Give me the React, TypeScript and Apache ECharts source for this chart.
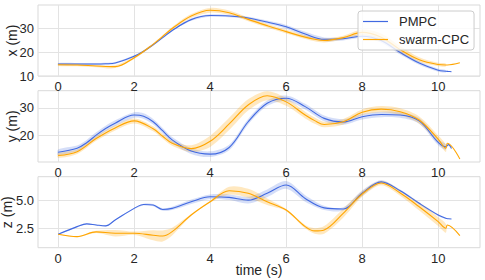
import React, { useEffect, useRef } from "react";
import * as echarts from "echarts";

// Time stamps (s)
const tP = [0, 0.5, 0.75, 1, 1.25, 1.5, 2, 2.25, 2.5, 2.75, 3, 3.5, 4, 4.5, 5, 5.5, 6, 6.5, 7, 7.5, 8, 8.5, 9, 9.5, 10, 10.2, 10.27, 10.35];
const tS = [0, 0.5, 1, 1.5, 2, 2.5, 2.75, 3, 3.5, 4, 4.5, 5, 5.5, 6, 6.5, 6.75, 7, 7.5, 8, 8.5, 9, 9.5, 10, 10.2, 10.24, 10.57];

// PMPC
const pmpcX = [15.0, 15.0, 15.0, 15.0, 15.1, 15.4, 18.2, 20.3, 23.0, 26.0, 29.0, 33.5, 35.2, 35.0, 34.2, 32.5, 30.5, 27.5, 25.3, 25.5, 26.6, 24.8, 19.8, 15.4, 12.4, 12.0, 11.9, 11.8];
const pmpcY = [14.1, 15.5, 17.5, 20.2, 22.6, 24.5, 27.4, 27.0, 25.0, 21.8, 18.5, 14.5, 13.4, 15.8, 25.0, 31.6, 33.4, 30.4, 26.2, 24.9, 26.8, 27.6, 27.4, 25.3, 17.6, 16.0, 16.8, 15.4];
const pmpcZ = [1.96, 2.65, 2.9, 2.8, 2.72, 3.25, 4.3, 4.65, 4.6, 4.2, 4.3, 4.9, 5.36, 5.3, 5.05, 5.67, 6.42, 5.2, 4.35, 4.25, 5.67, 6.7, 5.9, 4.76, 3.7, 3.4, 3.36, 3.34];
const pmpcXBand = [0.4, 0.4, 0.4, 0.4, 0.4, 0.4, 0.4, 0.4, 0.4, 0.4, 0.4, 0.5, 0.5, 0.5, 0.5, 0.6, 0.8, 0.9, 0.8, 0.7, 0.8, 0.9, 0.8, 0.7, 0.6, 0.5, 0, 0];
const pmpcYBand = [1.0, 1.0, 1.0, 1.0, 1.0, 1.0, 1.0, 1.0, 1.0, 1.0, 1.0, 1.0, 1.0, 1.0, 1.0, 1.0, 1.0, 1.0, 1.0, 1.0, 1.0, 1.0, 1.0, 1.0, 1.0, 1.0, 0, 0];
const pmpcZBand = [0.03, 0.05, 0.05, 0.05, 0.05, 0.05, 0.05, 0.08, 0.1, 0.12, 0.15, 0.2, 0.2, 0.25, 0.3, 0.35, 0.35, 0.3, 0.2, 0.15, 0.25, 0.15, 0.1, 0.1, 0.08, 0.05, 0, 0];

// swarm-CPC
const swarmX = [14.7, 14.6, 14.2, 13.9, 17.6, 23.2, 26.5, 29.8, 35.0, 37.4, 36.4, 33.6, 31.0, 28.5, 26.2, 25.3, 24.8, 26.0, 28.2, 26.2, 21.0, 16.8, 14.8, 14.6, 14.6, 15.5];
const swarmY = [12.9, 14.3, 19.0, 22.8, 25.3, 22.5, 19.8, 17.3, 15.4, 18.0, 24.2, 31.0, 34.3, 32.1, 27.4, 25.4, 24.0, 25.0, 28.4, 29.5, 28.6, 25.6, 18.8, 15.5, 17.3, 11.7];
const swarmZ = [1.96, 1.74, 2.17, 2.05, 2.05, 1.87, 1.8, 2.2, 3.7, 4.9, 5.9, 5.67, 4.9, 4.15, 2.65, 2.26, 2.35, 3.85, 5.6, 6.6, 5.7, 4.45, 3.1, 2.5, 2.8, 1.83];
const swarmXBand = [0.5, 0.5, 0.5, 0.6, 0.5, 0.5, 0.5, 0.6, 0.8, 1.0, 0.9, 0.8, 0.8, 0.8, 0.8, 0.8, 0.8, 0.8, 1.2, 1.5, 1.5, 1.0, 0.7, 0.6, 0, 0];
const swarmYBand = [0.8, 0.8, 0.8, 0.9, 0.9, 0.9, 0.9, 0.9, 1.2, 2.0, 2.2, 2.0, 1.6, 1.4, 1.2, 1.1, 1.0, 1.0, 1.0, 1.1, 1.2, 1.3, 1.3, 1.3, 0, 0];
const swarmZBand = [0.03, 0.05, 0.1, 0.3, 0.15, 0.45, 0.5, 0.35, 0.1, 0.1, 0.35, 0.4, 0.3, 0.1, 0.15, 0.25, 0.35, 0.4, 0.25, 0.2, 0.25, 0.35, 0.4, 0.4, 0, 0];

const xTicks = [0, 2, 4, 6, 8, 10];
const yTicks = [[10, 20, 30], [20, 30], [2.5, 5.0]];
const yRanges = [[10, 39.6], [10.6, 36.1], [0.74, 7.17]];
const yNames = ["x (m)", "y (m)", "z (m)"];

const FONT = "Liberation Sans, Arial, sans-serif";
const TXT = "#262626";
const BLUE = "#4169e1";
const ORANGE = "#ffa500";

function band(name: string, idx: number, t: number[], v: number[], hw: number[], fill: string) {
  const data = t.map((x, i) => [x, v[i] - hw[i], v[i] + hw[i]]);
  return {
    type: "custom",
    name,
    xAxisIndex: idx,
    yAxisIndex: idx,
    silent: true,
    clip: true,
    z: 1,
    encode: { x: 0, y: [1, 2] },
    data,
    renderItem: (params: any, api: any) => {
      if (params.dataIndex !== 0) return null;
      const up: number[][] = [];
      const lo: number[][] = [];
      data.forEach((d, i) => {
        if (hw[i] > 0) {
          up.push(api.coord([d[0], d[2]]));
          lo.push(api.coord([d[0], d[1]]));
        }
      });
      return {
        type: "polygon",
        shape: { points: up.concat(lo.reverse()), smooth: 0.3 },
        style: { fill },
      };
    },
  };
}

function line(name: string, idx: number, t: number[], v: number[], color: string) {
  return {
    type: "line",
    name,
    xAxisIndex: idx,
    yAxisIndex: idx,
    data: t.map((x, i) => [x, v[i]]),
    smooth: 0.35,
    showSymbol: false,
    symbol: "none",
    color,
    lineStyle: { width: 1.1, color },
    z: 3,
  };
}

export default function App() {
  const ref = useRef<HTMLDivElement>(null);
  useEffect(() => {
    const chart = echarts.init(ref.current!, null, { renderer: "svg" });
    const tops = [5, 90.7, 176.7];
    const heights = [71, 71.3, 71];
    const nameGaps = [19, 19, 24];
    const grid = tops.map((top, i) => ({
      left: 38,
      top,
      width: 442,
      height: heights[i],
      containLabel: false,
      outerBoundsMode: "none",
      show: true,
      backgroundColor: "#ffffff",
      borderColor: "#d9d9d9",
      borderWidth: 1,
    }));
    const xAxis = [0, 1, 2].map((i) => ({
      type: "value",
      gridIndex: i,
      min: -0.53,
      max: 11.1,
      axisLine: { show: false },
      axisTick: { show: false, customValues: xTicks },
      axisLabel: { customValues: xTicks, margin: 4, fontSize: 13, color: TXT, fontFamily: FONT },
      splitLine: { show: true, lineStyle: { color: "#e3e3e3", width: 1 } },
      name: i === 2 ? "time (s)" : "",
      nameLocation: "middle",
      nameGap: 15,
      nameMoveOverlap: false,
      nameTextStyle: { fontSize: 14, color: TXT, fontFamily: FONT },
    }));
    const yAxis = [0, 1, 2].map((i) => ({
      type: "value",
      gridIndex: i,
      min: yRanges[i][0],
      max: yRanges[i][1],
      axisLine: { show: false },
      axisTick: { show: false, customValues: yTicks[i] },
      axisLabel: {
        customValues: yTicks[i],
        margin: 4,
        fontSize: 13,
        color: TXT,
        fontFamily: FONT,
        formatter: (v: number) => (i === 2 ? v.toFixed(1) : String(v)),
      },
      splitLine: { show: true, lineStyle: { color: "#e3e3e3", width: 1 } },
      name: yNames[i],
      nameLocation: "middle",
      nameGap: nameGaps[i],
      nameMoveOverlap: false,
      nameTextStyle: { fontSize: 14, color: TXT, fontFamily: FONT },
    }));
    const series: any[] = [
      band("bandPX", 0, tP, pmpcX, pmpcXBand, "rgba(65,105,225,0.22)"),
      band("bandSX", 0, tS, swarmX, swarmXBand, "rgba(255,165,0,0.25)"),
      band("bandPY", 1, tP, pmpcY, pmpcYBand, "rgba(65,105,225,0.22)"),
      band("bandSY", 1, tS, swarmY, swarmYBand, "rgba(255,165,0,0.25)"),
      band("bandPZ", 2, tP, pmpcZ, pmpcZBand, "rgba(65,105,225,0.22)"),
      band("bandSZ", 2, tS, swarmZ, swarmZBand, "rgba(255,165,0,0.25)"),
      line("PMPC", 0, tP, pmpcX, BLUE),
      line("swarm-CPC", 0, tS, swarmX, ORANGE),
      line("PMPC", 1, tP, pmpcY, BLUE),
      line("swarm-CPC", 1, tS, swarmY, ORANGE),
      line("PMPC", 2, tP, pmpcZ, BLUE),
      line("swarm-CPC", 2, tS, swarmZ, ORANGE),
    ];
    chart.setOption({
      animation: false,
      backgroundColor: "#ffffff",
      grid,
      xAxis,
      yAxis,
      legend: {
        data: [
          { name: "PMPC", icon: "rect" },
          { name: "swarm-CPC", icon: "rect" },
        ],
        orient: "vertical",
        left: 358,
        top: 11,
        padding: [4, 5, 4, 5],
        itemGap: 5,
        itemWidth: 25,
        itemHeight: 1.2,
        backgroundColor: "rgba(255,255,255,0.8)",
        borderColor: "#cccccc",
        borderWidth: 1,
        borderRadius: 3,
        textStyle: { fontSize: 13, color: TXT, fontFamily: FONT, padding: [0, 0, 0, 6] },
        z: 10,
      },
      series,
    });
    return () => chart.dispose();
  }, []);
  return <div ref={ref} style={{ position: "absolute", left: 0, top: 0, width: 485, height: 280 }} />;
}
